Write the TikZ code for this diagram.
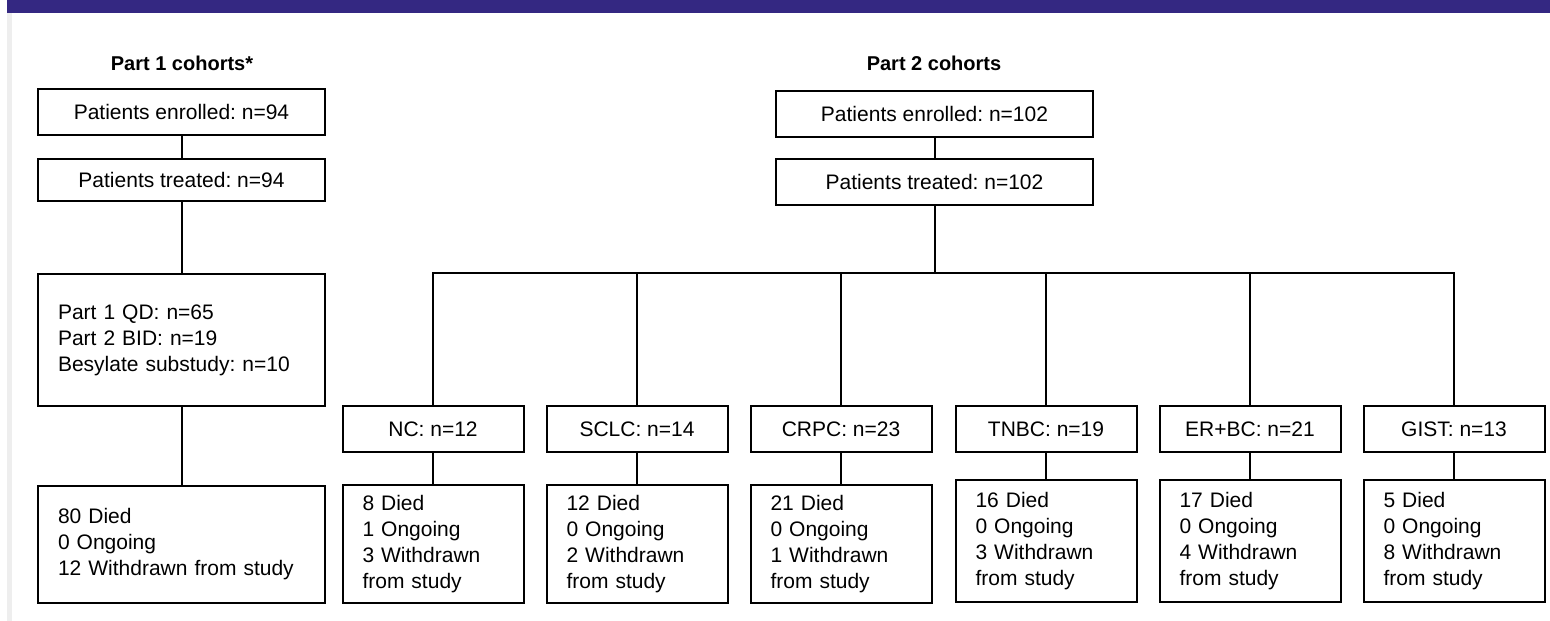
\documentclass[tikz,border=0pt]{standalone}
\usepackage{fontspec}
\setmainfont{Liberation Sans}
\definecolor{barblue}{RGB}{52,40,130}
\definecolor{stripgray}{RGB}{238,238,238}
\frenchspacing
\begin{document}
\begin{tikzpicture}[x=1pt,y=-1pt,
  font=\fontsize{21}{26}\selectfont,
  box/.style={draw=black,line width=2pt,inner sep=0pt,align=center},
  lbox/.style={draw=black,line width=2pt,inner xsep=20pt,inner ysep=0pt,align=left},
  conn/.style={draw=black,line width=2pt},
  ttl/.style={font=\fontsize{20}{24}\selectfont\bfseries}]
\useasboundingbox (0,0) rectangle (1550,621);
\fill[white] (0,0) rectangle (1550,621);
\fill[barblue] (7,0) rectangle (1550,13);
\fill[stripgray] (7,13) rectangle (12,621);

% Part 1
\node[ttl] (t1) at (182,63) {Part 1 cohorts*};
\node[box,minimum width=287pt,minimum height=46pt] (p1e) at (181.5,112) {Patients enrolled: n=94};
\node[box,minimum width=287pt,minimum height=42pt] (p1t) at (181.5,180) {Patients treated: n=94};
\node[lbox,text width=247pt,minimum height=132pt] (p1q) at (181.5,340) {Part 1 QD: n=65\\Part 2 BID: n=19\\Besylate substudy: n=10};
\node[lbox,text width=247pt,minimum height=117pt] (p1d) at (181.5,544.5) {80 Died\\0 Ongoing\\12 Withdrawn from study};
\draw[conn] (p1e) -- (p1t);
\draw[conn] (p1t) -- (p1q);
\draw[conn] (p1q) -- (p1d);

% Part 2
\node[ttl] (t2) at (934,63) {Part 2 cohorts};
\node[box,minimum width=317pt,minimum height=46pt] (p2e) at (934.5,114) {Patients enrolled: n=102};
\node[box,minimum width=317pt,minimum height=46pt] (p2t) at (934.5,182) {Patients treated: n=102};
\coordinate (bar) at (934.5,273);

\node[box,minimum width=181pt,minimum height=46pt] (c1) at (433,429) {NC: n=12};
\node[box,minimum width=181pt,minimum height=46pt] (c2) at (637,429) {SCLC: n=14};
\node[box,minimum width=181pt,minimum height=46pt] (c3) at (841,429) {CRPC: n=23};
\node[box,minimum width=181pt,minimum height=46pt] (c4) at (1046,429) {TNBC: n=19};
\node[box,minimum width=181pt,minimum height=46pt] (c5) at (1250,429) {ER+BC: n=21};
\node[box,minimum width=181pt,minimum height=46pt] (c6) at (1454,429) {GIST: n=13};

\node[lbox,text width=141pt,minimum height=118pt] (o1) at (433,544) {8 Died\\1 Ongoing\\3 Withdrawn\\from study};
\node[lbox,text width=141pt,minimum height=118pt] (o2) at (637,544) {12 Died\\0 Ongoing\\2 Withdrawn\\from study};
\node[lbox,text width=141pt,minimum height=118pt] (o3) at (841,544) {21 Died\\0 Ongoing\\1 Withdrawn\\from study};
\node[lbox,text width=141pt,minimum height=122pt] (o4) at (1046,541) {16 Died\\0 Ongoing\\3 Withdrawn\\from study};
\node[lbox,text width=141pt,minimum height=122pt] (o5) at (1250,541) {17 Died\\0 Ongoing\\4 Withdrawn\\from study};
\node[lbox,text width=141pt,minimum height=122pt] (o6) at (1454,541) {5 Died\\0 Ongoing\\8 Withdrawn\\from study};

\draw[conn] (p2e) -- (p2t);
\draw[conn] (p2t.south) -- (bar);
\draw[conn] (c1.north) |- (bar) -| (c6.north);
\foreach \c in {c2,c3,c4,c5} {\draw[conn] (\c.north) -- (\c.north |- bar);}
\foreach \i in {1,...,6} {\draw[conn] (c\i) -- (o\i);}
\end{tikzpicture}
\end{document}
